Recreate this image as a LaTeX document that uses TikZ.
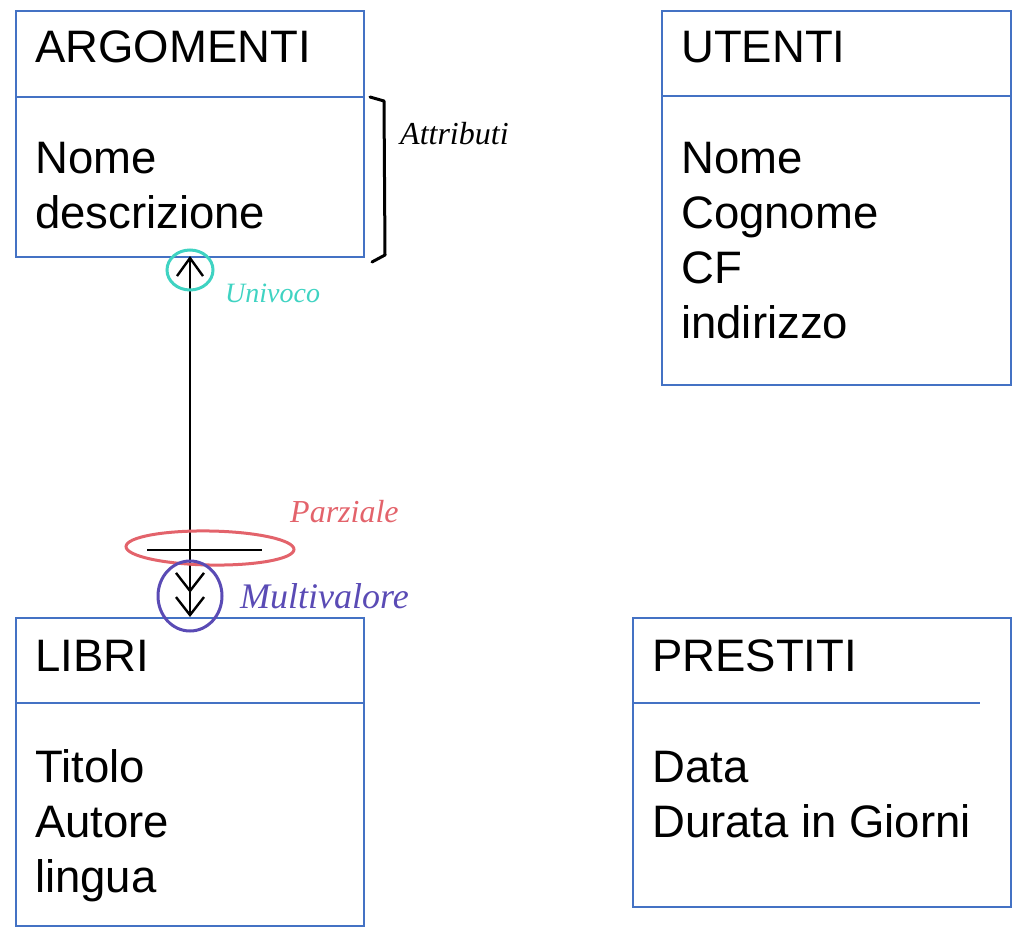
\documentclass[tikz,border=0pt]{standalone}
\usepackage{fontspec}
\setmainfont{Liberation Sans}
\newfontfamily\handfont{Liberation Serif}
\usetikzlibrary{arrows.meta,shapes.geometric}
\definecolor{boxblue}{HTML}{4472C4}
\definecolor{hcyan}{HTML}{3FD3C2}
\definecolor{hred}{HTML}{E3636B}
\definecolor{hpurple}{HTML}{5A4BB5}
\tikzset{
  entity/.style={draw=boxblue, line width=1.8pt, anchor=north west, inner sep=0pt},
  divider/.style={draw=boxblue, line width=1.8pt},
  txt/.style={anchor=base west, inner sep=0pt, font=\fontsize{45.5}{55}\selectfont},
  conn/.style={line width=2.4pt, black},
  hand/.style={anchor=base west, inner sep=0pt, font=\handfont\itshape\fontsize{32}{34}\selectfont},
  handmark/.style={line width=3pt},
}
\begin{document}
\begin{tikzpicture}[x=1pt,y=-1pt]
\useasboundingbox (0,0) rectangle (1022,937);
% ARGOMENTI
\node[entity, minimum width=348pt, minimum height=246pt] (arg) at (15,10) {};
\draw[divider] (15,97) -- (363,97);
\node[txt] (argt) at (35,62) {ARGOMENTI};
\node[txt] (arg1) at (35,173) {Nome};
\node[txt] (arg2) at (35,228) {descrizione};
% UTENTI
\node[entity, minimum width=349pt, minimum height=374pt] (ute) at (661,10) {};
\draw[divider] (661,96) -- (1010,96);
\node[txt] (utet) at (681,62) {UTENTI};
\node[txt] (ute1) at (681,173) {Nome};
\node[txt] (ute2) at (681,228) {Cognome};
\node[txt] (ute3) at (681,283) {CF};
\node[txt] (ute4) at (681,338) {indirizzo};
% LIBRI
\node[entity, minimum width=348pt, minimum height=308pt] (lib) at (15,617) {};
\draw[divider] (15,703) -- (363,703);
\node[txt] (libt) at (35,671) {LIBRI};
\node[txt] (lib1) at (35,782) {Titolo};
\node[txt] (lib2) at (35,837) {Autore};
\node[txt] (lib3) at (35,892) {lingua};
% PRESTITI
\node[entity, minimum width=378pt, minimum height=289pt] (pre) at (632,617) {};
\draw[divider] (632,703) -- (980,703);
\node[txt] (pret) at (652,671) {PRESTITI};
\node[txt] (pre1) at (652,782) {Data};
\node[txt] (pre2) at (652,837) {Durata in Giorni};
% connector
\coordinate (ctop) at (190,256);
\coordinate (cbot) at (190,617);
\draw[conn, {Straight Barb[length=18pt,width=26pt,line width=2.4pt]}-{Straight Barb[length=18pt,width=28pt,line width=2.4pt,sep=3pt]Straight Barb[length=18pt,width=28pt,line width=2.4pt]}] (ctop) -- (cbot);
\coordinate (barl) at (147,550);
\coordinate (barr) at (262,550);
\draw[conn] (barl) -- (barr);
% bracket
\coordinate (br1) at (370,97);
\coordinate (br2) at (384,101);
\coordinate (br3) at (385,255);
\coordinate (br4) at (372,262);
\draw[line width=3pt, line cap=round, line join=round] (br1) -- (br2) -- (br3) -- (br4);
\node[hand] (attr) at (400,144) {Attributi};
% annotations
\node[draw=hcyan, handmark, ellipse, minimum width=46pt, minimum height=40pt, inner sep=0pt] (cc) at (190,270) {};
\node[hand, text=hcyan, font=\handfont\itshape\fontsize{28}{30}\selectfont] (univ) at (225,302) {Univoco};
\node[draw=hred, handmark, ellipse, minimum width=168pt, minimum height=34pt, inner sep=0pt, rotate=-1] (rc) at (210,548) {};
\node[hand, text=hred] (parz) at (290,522) {Parziale};
\node[draw=hpurple, handmark, ellipse, minimum width=64pt, minimum height=70pt, inner sep=0pt] (pc) at (190,596) {};
\node[hand, text=hpurple, font=\handfont\itshape\fontsize{36}{36}\selectfont] (mult) at (240,608) {Multivalore};
\end{tikzpicture}
\end{document}
